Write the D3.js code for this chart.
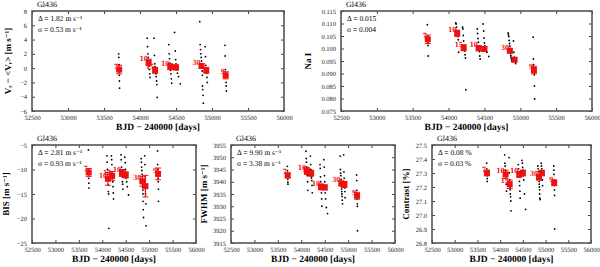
<!DOCTYPE html>
<html>
<head>
<meta charset="utf-8">
<script src="https://cdn.jsdelivr.net/npm/d3@7"></script>
<style>
  body { margin: 0; background: #fff; }
  svg text { font-family: "Liberation Serif", "DejaVu Serif", serif; text-rendering: geometricPrecision; -webkit-font-smoothing: antialiased; }
</style>
</head>
<body>
<div id="chart"></div>
<script>
// observation dates (BJD - 2400000), shared by all panels
const obsDate = [
  53704, 53706, 53708, 53710, 53712, 53714, 53716,
  54100, 54105, 54110, 54115, 54120, 54125, 54130, 54135, 54140,
  54195, 54200, 54205, 54210, 54215, 54220, 54225, 54230, 54235, 54240,
  54400, 54405, 54410, 54415, 54420, 54425, 54430, 54435, 54440,
  54480, 54490, 54495, 54500, 54505, 54510, 54520, 54535, 54560,
  54830, 54835, 54840, 54845, 54850, 54855, 54858, 54860, 54862, 54865, 54868, 54870, 54875, 54880,
  54905, 54910, 54915, 54920, 54925, 54930, 54935,
  55180, 55183, 55186, 55189, 55192, 55195, 55198, 55200
];
const rv = [
  2.0, 1.5, 0.5, -0.5, -1.0, -1.8, -2.8,
  4.2, 3.0, 2.0, 1.5, 0.8, 0.3, -0.2, -0.8, -1.3,
  4.2, 1.8, 0.6, 0.2, -0.3, -0.8, -1.2, -1.8, -2.3, -4.1,
  3.3, 2.0, 1.3, 0.7, 0.2, -0.3, -0.8, -1.5, -2.1,
  5.0, 2.4, 1.2, 0.6, 0.3, -0.2, -0.7, -1.2, -2.2,
  6.5, 3.3, 2.6, 2.0, 1.5, 1.0, 0.6, 0.2, -0.4, -1.0, -2.5, -3.0, -3.8, -4.9,
  3.0, 1.6, 0.4, -0.2, -0.7, -1.3, -2.0,
  3.2, 1.7, -0.2, -0.8, -1.2, -2.0, -2.5, -3.2
];
const naI = [
  0.1095, 0.1050, 0.1040, 0.1032, 0.1025, 0.1012, 0.0970,
  0.1102, 0.1098, 0.1085, 0.1072, 0.1065, 0.1055, 0.1048, 0.1035, 0.0985,
  0.1085, 0.1078, 0.1052, 0.1030, 0.1010, 0.1000, 0.0990, 0.0975, 0.0962, 0.0835,
  0.1078, 0.1060, 0.1040, 0.1025, 0.1010, 0.1000, 0.0988, 0.0970, 0.0958,
  0.1098, 0.1070, 0.1042, 0.1022, 0.1010, 0.1002, 0.0995, 0.0985, 0.0968,
  0.1062, 0.1055, 0.1048, 0.1032, 0.1020, 0.1010, 0.1000, 0.0995, 0.0988, 0.0980, 0.0972, 0.0965, 0.0958, 0.0950,
  0.1030, 0.0985, 0.0965, 0.0960, 0.0952, 0.0948, 0.0940,
  0.1045, 0.0958, 0.0935, 0.0920, 0.0910, 0.0895, 0.0850, 0.0798
];
const bis = [
  -6.0, -10.0, -10.5, -11.0, -11.8, -12.8, -13.8,
  -7.2, -8.5, -10.0, -11.0, -12.0, -13.2, -14.5, -15.0, -22.0,
  -7.2, -8.0, -9.0, -10.5, -11.0, -11.8, -12.5, -13.5, -14.8, -16.0,
  -7.0, -8.0, -9.5, -10.2, -10.8, -11.5, -12.5, -13.0, -14.0,
  -7.5, -8.6, -10.0, -10.6, -11.2, -11.8, -12.5, -13.5, -15.2,
  -7.8, -8.5, -9.5, -10.2, -11.0, -11.8, -12.3, -13.0, -13.6, -14.2, -15.0, -16.5, -18.2, -19.8,
  -7.2, -9.0, -11.5, -13.0, -15.0, -17.0, -21.5,
  -6.2, -9.0, -10.0, -11.0, -11.8, -12.5, -14.0, -16.5
];
const fwhm = [
  3946.3, 3944.5, 3943.0, 3942.0, 3941.0, 3939.8, 3939.0,
  3952.5, 3949.5, 3948.0, 3946.0, 3945.0, 3944.0, 3942.5, 3940.0, 3936.5,
  3950.5, 3947.0, 3945.0, 3943.5, 3942.0, 3941.5, 3940.5, 3938.5, 3935.5, 3944.0,
  3947.0, 3945.5, 3942.0, 3940.0, 3938.5, 3937.0, 3935.5, 3933.0, 3930.0,
  3949.0, 3946.0, 3942.5, 3940.0, 3937.5, 3935.5, 3933.0, 3929.5, 3927.0,
  3950.5, 3945.0, 3943.5, 3942.5, 3941.0, 3940.0, 3939.0, 3938.0, 3937.0, 3936.0, 3935.0, 3934.0, 3932.5, 3931.0,
  3951.0, 3944.0, 3941.5, 3939.0, 3937.5, 3936.0, 3933.5,
  3942.8, 3940.5, 3936.5, 3934.5, 3933.0, 3931.0, 3930.0, 3920.0
];
const contrast = [
  27.37, 27.33, 27.31, 27.30, 27.28, 27.26, 27.24,
  27.43, 27.37, 27.35, 27.32, 27.30, 27.28, 27.26, 27.22, 27.17,
  27.41, 27.30, 27.25, 27.22, 27.20, 27.18, 27.15, 27.13, 27.10, 27.03,
  27.36, 27.33, 27.31, 27.29, 27.27, 27.24, 27.21, 27.17, 27.12,
  27.39, 27.37, 27.34, 27.32, 27.30, 27.28, 27.25, 27.15, 27.04,
  27.35, 27.33, 27.31, 27.29, 27.28, 27.27, 27.26, 27.24, 27.22, 27.20, 27.18, 27.15, 27.12, 27.11,
  27.37, 27.35, 27.33, 27.31, 27.29, 27.25, 27.21,
  27.35, 27.32, 27.29, 27.25, 27.21, 27.18, 27.14, 26.90
];

// binned averages
const groupDate = [53710, 54120, 54210, 54420, 54500, 54855, 54920, 55190];
const groupLabel = ["7", "10", "15", "10", "", "30", "", "9"];
const rvMean = [-0.2, 0.8, -0.3, 0.2, 0.1, 0.3, -0.3, -1.0];
const rvErr = [0.6, 0.45, 0.4, 0.4, 0.35, 0.3, 0.4, 0.5];
const naMean = [0.1037, 0.1061, 0.1003, 0.1001, 0.0998, 0.0991, 0.0955, 0.0914];
const naErr = [0.0017, 0.0012, 0.0012, 0.0010, 0.0010, 0.0008, 0.0008, 0.0015];
const bisMean = [-10.6, -11.9, -11.3, -10.7, -11.1, -12.4, -13.4, -10.9];
const bisErr = [0.8, 1.3, 0.9, 0.7, 0.6, 1.0, 2.2, 1.2];
const fwhmMean = [3942.6, 3944.3, 3943.5, 3937.9, 3937.7, 3939.3, 3938.9, 3934.3];
const fwhmErr = [1.0, 1.3, 1.2, 1.2, 1.0, 1.0, 1.2, 1.4];
const contrastMean = [27.30, 27.29, 27.22, 27.29, 27.30, 27.27, 27.30, 27.23];
const contrastErr = [0.02, 0.03, 0.03, 0.02, 0.02, 0.02, 0.02, 0.02];

const xTicks = [52500, 53000, 53500, 54000, 54500, 55000, 55500, 56000];
const rvTicks = [-6, -4, -2, 0, 2, 4, 6, 8];
const naTicks = [0.075, 0.080, 0.085, 0.090, 0.095, 0.100, 0.105, 0.110, 0.115];
const bisTicks = [-25, -20, -15, -10, -5];
const fwhmTicks = [3915, 3920, 3925, 3930, 3935, 3940, 3945, 3950, 3955];
const contrastTicks = [26.8, 26.9, 27.0, 27.1, 27.2, 27.3, 27.4, 27.5];

const svg = d3.select("#chart").append("svg")
    .attr("width", 600)
    .attr("height", 267);

function draw_panel(box, values, means, errs, yTicks, yFmt, yLabel, stats) {
    const x = d3.scaleLinear()
        .domain([52500, 56000])
        .range([box.left, box.right]);
    const y = d3.scaleLinear()
        .domain(d3.extent(yTicks))
        .range([box.bottom, box.top]);

    const g = svg.append("g");

    // ticks on all four sides, pointing in
    g.append("g")
        .attr("transform", "translate(0," + box.bottom + ")")
        .call(d3.axisBottom(x).tickValues(xTicks).tickSize(-3).tickFormat(d3.format("d")))
        .call(a => a.selectAll("text").attr("dy", "0.9em").attr("font-size", 6.5));
    g.append("g")
        .attr("transform", "translate(0," + box.top + ")")
        .call(d3.axisTop(x).tickValues(xTicks).tickSize(-3).tickFormat(""));
    g.append("g")
        .attr("transform", "translate(" + box.left + ",0)")
        .call(d3.axisLeft(y).tickValues(yTicks).tickSize(-3).tickFormat(yFmt))
        .call(a => a.selectAll("text").attr("dx", "-0.3em").attr("font-size", 6.5));
    g.append("g")
        .attr("transform", "translate(" + box.right + ",0)")
        .call(d3.axisRight(y).tickValues(yTicks).tickSize(-3).tickFormat(""));
    g.selectAll(".domain").remove();
    g.selectAll(".tick line").attr("stroke", "#444");
    g.selectAll(".tick text").attr("fill", "#222");

    g.append("rect")
        .attr("x", box.left)
        .attr("y", box.top)
        .attr("width", box.right - box.left)
        .attr("height", box.bottom - box.top)
        .attr("fill", "none")
        .attr("stroke", "#555")
        .attr("stroke-width", 1.6);

    g.append("text")
        .attr("x", box.left + 5)
        .attr("y", box.top - 4)
        .attr("font-size", 8)
        .attr("fill", "#000")
        .text("Gl436");

    g.append("text")
        .attr("transform", "translate(" + box.yLabelX + "," + (box.top + box.bottom) / 2 + ") rotate(-90)")
        .attr("text-anchor", "middle")
        .attr("font-size", 9)
        .attr("font-weight", "bold")
        .attr("fill", "#000")
        .text(yLabel);

    g.append("text")
        .attr("x", (box.left + box.right) / 2)
        .attr("y", box.bottom + 19)
        .attr("text-anchor", "middle")
        .attr("font-size", 9.5)
        .attr("font-weight", "bold")
        .attr("fill", "#000")
        .text("BJD − 240000 [days]");

    g.selectAll(".stat")
        .data(stats)
        .enter().append("text")
        .attr("x", box.left + 6)
        .attr("y", (d, i) => box.top + 10 + i * 11)
        .attr("font-size", 7.5)
        .attr("fill", "#000")
        .text(d => d);

    g.selectAll(".pt")
        .data(values)
        .enter().append("circle")
        .attr("cx", (d, i) => x(obsDate[i]))
        .attr("cy", d => y(d))
        .attr("r", 0.9)
        .attr("fill", "#000");

    const red = "#f01010";
    const grp = g.selectAll(".grp")
        .data(means)
        .enter().append("g");
    grp.append("line")
        .attr("x1", (d, i) => x(groupDate[i]))
        .attr("x2", (d, i) => x(groupDate[i]))
        .attr("y1", (d, i) => y(d - errs[i]))
        .attr("y2", (d, i) => y(d + errs[i]))
        .attr("stroke", red)
        .attr("stroke-width", 1.2);
    [-1, 1].forEach(s => {
        grp.append("line")
            .attr("x1", (d, i) => x(groupDate[i]) - 3)
            .attr("x2", (d, i) => x(groupDate[i]) + 3)
            .attr("y1", (d, i) => y(d + s * errs[i]))
            .attr("y2", (d, i) => y(d + s * errs[i]))
            .attr("stroke", red)
            .attr("stroke-width", 1);
    });
    grp.append("rect")
        .attr("x", (d, i) => x(groupDate[i]) - 3)
        .attr("y", d => y(d) - 3)
        .attr("width", 6)
        .attr("height", 6)
        .attr("fill", red);
    grp.append("text")
        .attr("x", (d, i) => x(groupDate[i]) - 1)
        .attr("y", d => y(d) - 1)
        .attr("text-anchor", "end")
        .attr("font-size", 8)
        .attr("font-weight", "bold")
        .attr("fill", red)
        .text((d, i) => groupLabel[i]);
}

draw_panel({left: 32, right: 284, top: 11, bottom: 111, yLabelX: 11},
    rv, rvMean, rvErr, rvTicks, d3.format("d"), "V\u1D63 − <V\u1D63> [m s⁻¹]",
    ["Δ = 1.82 m s⁻¹", "σ = 0.53 m s⁻¹"]);
draw_panel({left: 341, right: 592, top: 11, bottom: 111, yLabelX: 311},
    naI, naMean, naErr, naTicks, d3.format(".3f"), "Na I",
    ["Δ = 0.015", "σ = 0.004"]);
draw_panel({left: 32, right: 196, top: 145, bottom: 243, yLabelX: 9},
    bis, bisMean, bisErr, bisTicks, d3.format("d"), "BIS [m s⁻¹]",
    ["Δ = 2.81 m s⁻¹", "σ = 0.93 m s⁻¹"]);
draw_panel({left: 231, right: 395, top: 145, bottom: 243, yLabelX: 207},
    fwhm, fwhmMean, fwhmErr, fwhmTicks, d3.format("d"), "FWHM [m s⁻¹]",
    ["Δ = 9.90 m s⁻¹", "σ = 3.38 m s⁻¹"]);
draw_panel({left: 432, right: 591, top: 145, bottom: 243, yLabelX: 409},
    contrast, contrastMean, contrastErr, contrastTicks, d3.format(".1f"), "Contrast [%]",
    ["Δ = 0.08 %", "σ = 0.03 %"]);
</script>
</body>
</html>
